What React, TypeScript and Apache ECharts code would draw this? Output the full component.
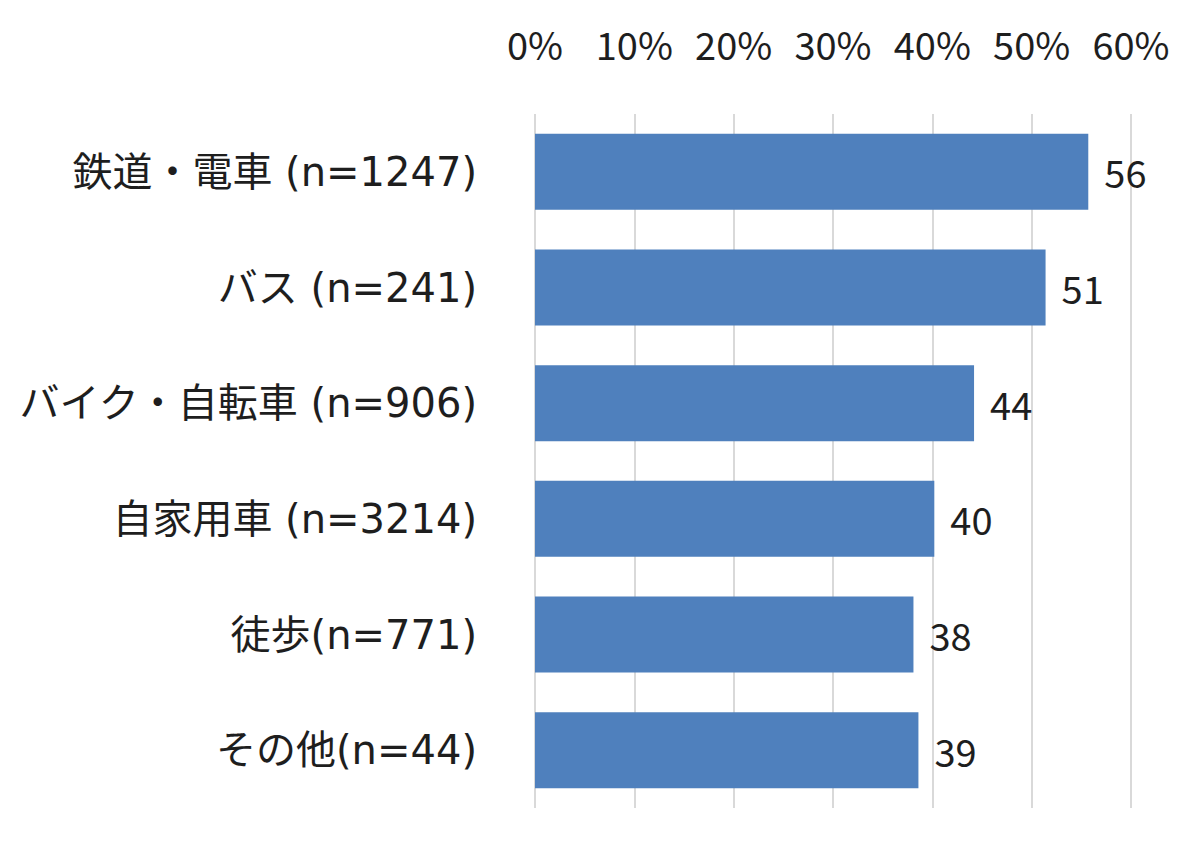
import React, { useEffect, useRef } from "react";
import * as echarts from "echarts";

const categories = [
  "鉄道・電車 (n=1247)",
  "バス (n=241)",
  "バイク・自転車 (n=906)",
  "自家用車 (n=3214)",
  "徒歩(n=771)",
  "その他(n=44)",
];
const values = [55.7, 51.4, 44.2, 40.2, 38.1, 38.6];
const xTicks = { min: 0, max: 60, interval: 10 };

const FONT = "'Noto Sans CJK JP', 'Noto Sans', sans-serif";
const CAT_FONT = "'DejaVu Sans', 'Noto Sans CJK JP', sans-serif";
const TEXT = "#1e1e1e";

export default function App() {
  const ref = useRef<HTMLDivElement>(null);
  useEffect(() => {
    document.body.style.margin = "0";
    const chart = echarts.init(ref.current!, null, { renderer: "svg" });
    chart.setOption({
      animation: false,
      backgroundColor: "#ffffff",
      grid: { left: 535, right: 69, top: 114, bottom: 34, containLabel: false },
      xAxis: {
        type: "value",
        position: "top",
        min: xTicks.min,
        max: xTicks.max,
        interval: xTicks.interval,
        axisLine: { show: false },
        axisTick: { show: false },
        axisLabel: {
          formatter: "{value}%",
          margin: 52,
          color: TEXT,
          fontSize: 38,
          fontFamily: FONT,
        },
        splitLine: { show: true, lineStyle: { color: "#d9d9d9", width: 2 } },
      },
      yAxis: {
        type: "category",
        inverse: true,
        data: categories,
        axisLine: { show: false },
        axisTick: { show: false },
        axisLabel: {
          margin: 58,
          color: TEXT,
          fontSize: 40,
          fontFamily: CAT_FONT,
        },
      },
      series: [
        {
          type: "bar",
          data: values,
          barWidth: 76,
          itemStyle: { color: "#4f80bd" },
          label: {
            show: true,
            position: "right",
            distance: 16,
            color: TEXT,
            fontSize: 38,
            fontFamily: FONT,
            formatter: (p: any) => String(Math.round(p.value)),
          },
        },
      ],
    });
    return () => chart.dispose();
  }, []);
  return <div ref={ref} style={{ width: 1200, height: 842 }} />;
}
